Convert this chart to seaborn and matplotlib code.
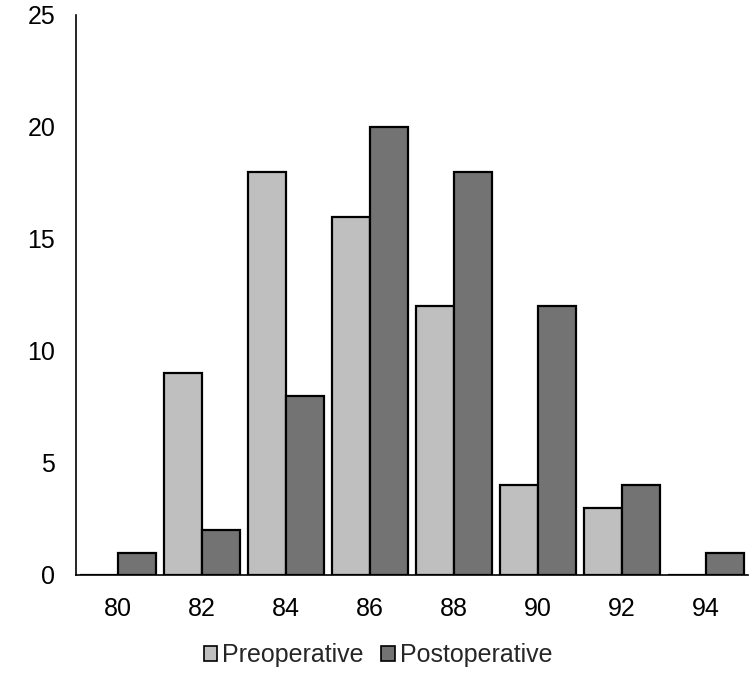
import matplotlib
matplotlib.use("Agg")
import matplotlib.pyplot as plt
import seaborn as sns
import pandas as pd
from matplotlib.patches import Patch

# data
categories = ["80", "82", "84", "86", "88", "90", "92", "94"]
preoperative = [0, 9, 18, 16, 12, 4, 3, 0]
postoperative = [1, 2, 8, 20, 18, 12, 4, 1]
series = ["Preoperative", "Postoperative"]
colors = {"Preoperative": "#BFBFBF", "Postoperative": "#737373"}

df = pd.DataFrame({
    "score": categories * 2,
    "count": preoperative + postoperative,
    "group": [series[0]] * len(categories) + [series[1]] * len(categories),
})

sns.set_style("white")
plt.rcParams["font.family"] = ["Liberation Sans", "DejaVu Sans"]

fig = plt.figure(figsize=(7.5, 6.82), dpi=100)
ax = fig.add_axes([76 / 750, 1 - 575 / 682, 672 / 750, 560 / 682])

sns.barplot(data=df, x="score", y="count", hue="group", order=categories,
            hue_order=series, palette=colors, edgecolor="black", linewidth=1.6,
            width=0.9, saturation=1, legend=False, ax=ax)

ax.set_xlim(-0.5, len(categories) - 0.5)
ax.set_ylim(0, 25)
ax.set_yticks([0, 5, 10, 15, 20, 25])
ax.set_xlabel("")
ax.set_ylabel("")
ax.tick_params(axis="both", length=0, labelsize=18, colors="black")
ax.tick_params(axis="y", pad=15)
ax.tick_params(axis="x", pad=16)
for side in ["top", "right"]:
    ax.spines[side].set_visible(False)
for side in ["left", "bottom"]:
    ax.spines[side].set_color("black")
    ax.spines[side].set_linewidth(1.2)

handles = [Patch(facecolor=colors[s], edgecolor="black", linewidth=1.2, label=s) for s in series]
fig.legend(handles=handles, loc="center", bbox_to_anchor=(378 / 750, 1 - 655 / 682),
           ncol=2, frameon=False, fontsize=18, handlelength=0.55, handleheight=0.55,
           handletextpad=0.2, columnspacing=0.7)

fig.savefig("out.png", dpi=100)
